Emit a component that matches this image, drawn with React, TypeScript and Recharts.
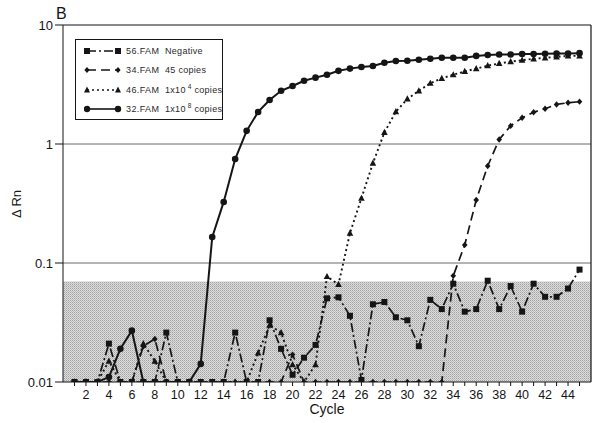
import React from "react";
import {
  Line,
  LineChart,
  ReferenceArea,
  ReferenceLine,
  XAxis,
  YAxis,
} from "recharts";

const cycles = [
  1, 2, 3, 4, 5, 6, 7, 8, 9, 10, 11, 12, 13, 14, 15, 16, 17, 18, 19, 20, 21, 22, 23,
  24, 25, 26, 27, 28, 29, 30, 31, 32, 33, 34, 35, 36, 37, 38, 39, 40, 41, 42, 43, 44, 45,
];

const negative = [
  0.01, 0.01, 0.01, 0.021, 0.01, 0.01, 0.01, 0.01, 0.026, 0.01, 0.01, 0.01, 0.01, 0.01,
  0.026, 0.01, 0.01, 0.033, 0.019, 0.0115, 0.016, 0.0205, 0.0505, 0.0515, 0.036, 0.0104,
  0.045, 0.047, 0.035, 0.033, 0.02, 0.049, 0.041, 0.067, 0.039, 0.041, 0.071, 0.041,
  0.064, 0.039, 0.067, 0.052, 0.052, 0.061, 0.088,
];

const copies45 = [
  0.01, 0.01, 0.01, 0.01, 0.01, 0.01, 0.02, 0.023, 0.01, 0.01, 0.01, 0.01, 0.01, 0.01,
  0.01, 0.01, 0.01, 0.01, 0.01, 0.017, 0.01, 0.01, 0.01, 0.01, 0.01, 0.01, 0.01, 0.01,
  0.01, 0.01, 0.01, 0.01, 0.01, 0.078, 0.142, 0.338, 0.653, 1.09, 1.42, 1.66, 1.85, 1.98,
  2.15, 2.22, 2.27,
];

const copies1e4 = [
  0.01, 0.01, 0.01, 0.015, 0.01, 0.01, 0.021, 0.015, 0.01, 0.01, 0.01, 0.01, 0.01, 0.01,
  0.01, 0.01, 0.0176, 0.03, 0.026, 0.014, 0.01, 0.014, 0.077, 0.066, 0.178, 0.35, 0.69,
  1.25, 1.87, 2.39, 2.8, 3.24, 3.56, 3.82, 4.07, 4.3, 4.55, 4.75, 4.92, 5.06, 5.2, 5.3,
  5.4, 5.5, 5.5,
];

const copies1e8 = [
  0.01, 0.01, 0.01, 0.011, 0.019, 0.027, 0.01, 0.01, 0.01, 0.01, 0.01, 0.0142, 0.165,
  0.326, 0.748, 1.29, 1.86, 2.34, 2.8, 3.07, 3.4, 3.61, 3.82, 4.12, 4.3, 4.44, 4.52, 4.82,
  4.98, 5.0, 5.1, 5.2, 5.3, 5.3, 5.3, 5.5, 5.6, 5.65, 5.65, 5.7, 5.7, 5.74, 5.75, 5.75,
  5.8,
];

const yTicks = [0.01, 0.1, 1, 10];
const yTickLabels = ["0.01", "0.1", "1", "10"];
const thresholdTop = 0.07;

const chartData = cycles.map((cycle, i) => ({
  cycle,
  negative: negative[i],
  c45: copies45[i],
  c1e4: copies1e4[i],
  c1e8: copies1e8[i],
}));

const fontFamily = "'Liberation Sans', Arial, sans-serif";
const ink = "#151515";

type DotProps = { cx?: number; cy?: number; index?: number };

const squareDot = ({ cx, cy, index }: DotProps) =>
  cx == null || cy == null ? (
    <g key={`sq-${index}`} />
  ) : (
    <rect key={`sq-${index}`} x={cx - 3} y={cy - 3} width={6} height={6} fill={ink} />
  );

const diamondDot = ({ cx, cy, index }: DotProps) =>
  cx == null || cy == null ? (
    <g key={`di-${index}`} />
  ) : (
    <path
      key={`di-${index}`}
      d={`M${cx},${cy - 3.2}L${cx + 2.8},${cy}L${cx},${cy + 3.2}L${cx - 2.8},${cy}Z`}
      fill={ink}
    />
  );

const triangleDot = ({ cx, cy, index }: DotProps) =>
  cx == null || cy == null ? (
    <g key={`tr-${index}`} />
  ) : (
    <path
      key={`tr-${index}`}
      d={`M${cx},${cy - 3.6}L${cx + 3.3},${cy + 2.6}L${cx - 3.3},${cy + 2.6}Z`}
      fill={ink}
    />
  );

const circleDot = ({ cx, cy, index }: DotProps) =>
  cx == null || cy == null ? (
    <g key={`ci-${index}`} />
  ) : (
    <circle key={`ci-${index}`} cx={cx} cy={cy} r={3.3} fill={ink} />
  );

const legendRows = [
  { name: "56.FAM", label: "Negative", sup: "", tail: "", dash: "9 3 2 3", marker: "square" },
  { name: "34.FAM", label: "45 copies", sup: "", tail: "", dash: "9 5", marker: "diamond" },
  { name: "46.FAM", label: "1x10", sup: "4", tail: " copies", dash: "2 3", marker: "triangle" },
  { name: "32.FAM", label: "1x10", sup: "8", tail: " copies", dash: "", marker: "circle" },
];

const LegendMarker = ({ kind, cx }: { kind: string; cx: number }) => {
  const cy = 6;
  if (kind === "square") return <rect x={cx - 3} y={cy - 3} width={6} height={6} fill={ink} />;
  if (kind === "diamond")
    return <path d={`M${cx},${cy - 3}L${cx + 2.6},${cy}L${cx},${cy + 3}L${cx - 2.6},${cy}Z`} fill={ink} />;
  if (kind === "triangle")
    return <path d={`M${cx},${cy - 3.4}L${cx + 3},${cy + 2.4}L${cx - 3},${cy + 2.4}Z`} fill={ink} />;
  return <circle cx={cx} cy={cy} r={3.2} fill={ink} />;
};

const ChartLegend = () => (
  <div
    style={{
      position: "absolute",
      left: 75,
      top: 39,
      width: 146,
      height: 79,
      border: `1px solid ${ink}`,
      background: "#fff",
      fontFamily,
      fontSize: 9,
      color: "#2a2a2a",
    }}
  >
    {legendRows.map((row, i) => (
      <div
        key={row.name}
        style={{ position: "absolute", left: 0, top: 5 + i * 19.3, height: 12, width: 146 }}
      >
        <svg width={46} height={12} style={{ position: "absolute", left: 8, top: 0 }}>
          <line
            x1={3}
            x2={34}
            y1={6}
            y2={6}
            stroke={ink}
            strokeWidth={1.6}
            strokeDasharray={row.dash || undefined}
          />
          <LegendMarker kind={row.marker} cx={3} />
          <LegendMarker kind={row.marker} cx={34} />
        </svg>
        <span style={{ position: "absolute", left: 50, top: 0, lineHeight: "12px", letterSpacing: 0.4 }}>
          {row.name}
        </span>
        <span
          style={{
            position: "absolute",
            left: 89,
            top: 0,
            lineHeight: "12px",
            whiteSpace: "nowrap",
            letterSpacing: 0.3,
          }}
        >
          {row.label}
          {row.sup ? (
            <sup style={{ fontSize: 6.5, verticalAlign: "top", position: "relative", top: -3, marginLeft: 2 }}>
              {row.sup}
            </sup>
          ) : null}
          {row.tail}
        </span>
      </div>
    ))}
  </div>
);

export default function App() {
  return (
    <div style={{ position: "absolute", left: 0, top: 0, width: 600, height: 423, background: "#fff" }}>
      <LineChart
        width={600}
        height={423}
        data={chartData}
        margin={{ top: 25, right: 9, bottom: 21, left: 8 }}
      >
        <defs>
          <pattern id="stipple" width={2} height={2} patternUnits="userSpaceOnUse">
            <rect width={2} height={2} fill="#dcdcdc" />
            <rect width={1} height={1} fill="#a2a2a2" />
            <rect x={1} y={1} width={1} height={1} fill="#bdbdbd" />
          </pattern>
        </defs>
        <XAxis
          dataKey="cycle"
          type="number"
          domain={[0, 46]}
          ticks={cycles}
          interval={0}
          allowDataOverflow
          tickFormatter={(v: number) => (v % 2 === 0 ? String(v) : "")}
          tick={{ fill: ink, fontSize: 12.5, fontFamily }}
          tickSize={4}
          tickMargin={4}
          height={20}
          axisLine={{ stroke: ink, strokeWidth: 1 }}
          tickLine={{ stroke: ink }}
          label={{
            value: "Cycle",
            position: "bottom",
            offset: 2,
            fill: ink,
            fontSize: 14,
            fontFamily,
          }}
        />
        <YAxis
          scale="log"
          domain={[0.01, 10]}
          ticks={yTicks}
          allowDataOverflow
          width={55}
          tickFormatter={(v: number) => yTickLabels[yTicks.indexOf(v)] ?? String(v)}
          tick={{ fill: ink, fontSize: 13, fontFamily }}
          tickSize={8}
          tickMargin={2}
          axisLine={{ stroke: ink, strokeWidth: 1 }}
          tickLine={{ stroke: ink }}
        />
        <ReferenceArea
          y1={0.01}
          y2={thresholdTop}
          x1={0}
          x2={46}
          fill="url(#stipple)"
          fillOpacity={1}
          stroke="none"
        />
        <ReferenceLine y={0.1} stroke="#6a6a6a" strokeWidth={1} />
        <ReferenceLine y={1} stroke="#6a6a6a" strokeWidth={1} />
        <ReferenceLine y={10} stroke={ink} strokeWidth={1.2} />
        <ReferenceLine x={46} stroke={ink} strokeWidth={1.2} />
        <Line
          dataKey="negative"
          stroke={ink}
          strokeWidth={1.7}
          strokeDasharray="9 3 2 3"
          dot={squareDot}
          activeDot={false}
          isAnimationActive={false}
        />
        <Line
          dataKey="c45"
          stroke={ink}
          strokeWidth={1.7}
          strokeDasharray="9 5"
          dot={diamondDot}
          activeDot={false}
          isAnimationActive={false}
        />
        <Line
          dataKey="c1e4"
          stroke={ink}
          strokeWidth={1.9}
          strokeDasharray="2 3"
          dot={triangleDot}
          activeDot={false}
          isAnimationActive={false}
        />
        <Line
          dataKey="c1e8"
          stroke={ink}
          strokeWidth={2}
          dot={circleDot}
          activeDot={false}
          isAnimationActive={false}
        />
        <text x={56} y={19} fill={ink} fontSize={16} fontFamily={fontFamily}>
          B
        </text>
        <text
          x={21}
          y={204}
          fill={ink}
          fontSize={13}
          fontFamily={fontFamily}
          textAnchor="middle"
          transform="rotate(-90 21 204)"
        >
          Δ Rn
        </text>
      </LineChart>
      <ChartLegend />
    </div>
  );
}
